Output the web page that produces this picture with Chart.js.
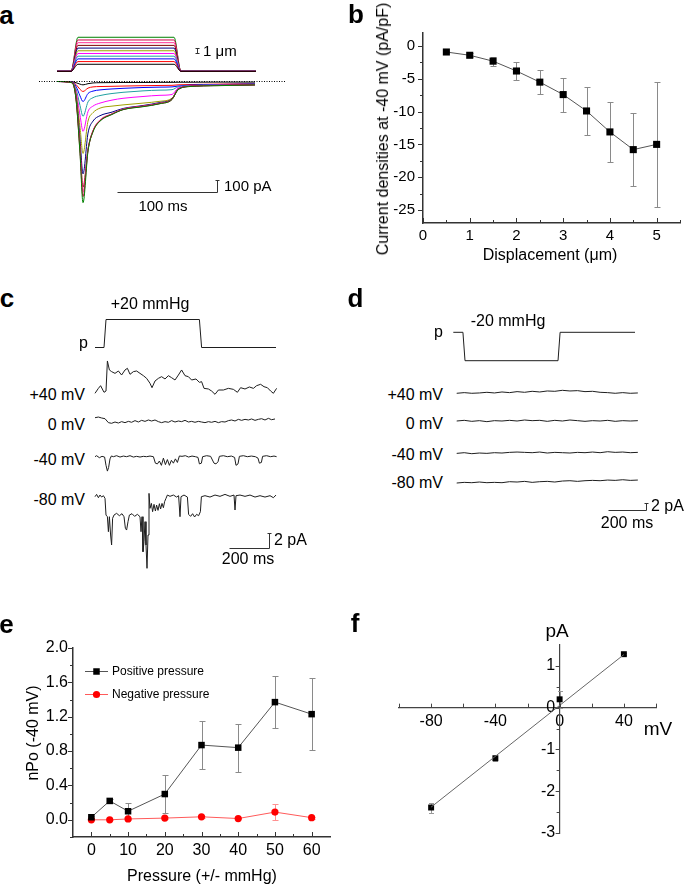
<!DOCTYPE html>
<html>
<head>
<meta charset="utf-8">
<script src="https://cdn.jsdelivr.net/npm/chart.js@4.4.3/dist/chart.umd.min.js"></script>
<style>
  body { margin: 0; background: #fff; }
  #fig { position: relative; width: 685px; height: 884px; overflow: hidden; background: #fff;
         font-family: 'Liberation Sans', Arial, Helvetica, sans-serif; color: #000; }
  #fig canvas { position: absolute; }
  .t { position: absolute; white-space: nowrap; line-height: 1; }
</style>
</head>
<body>
<div id="fig"></div>
<script>
// ---------- datos ----------

// panel a: estímulo (µm) y corrientes (pA) en el tiempo (ms)
const aStimTime = [0, 14, 21, 117, 124, 199];
const aLevels = [1.3, 1.8, 2.3, 2.8, 3.3, 3.8, 4.3, 4.8, 5.3, 5.8, 6.3];
const aTime = [0, 15, 19, 23, 26, 31, 36, 43, 55, 66, 86, 103, 115, 121, 133, 160, 198];
const aCurrents = [
  [0, -2, -10, -22, -28, -18, -12, -10, -9, -8, -8, -7, -7, -6, -6, -5, -5],
  [0, -3, -25, -65, -83, -55, -45, -42, -40, -38, -35, -33, -32, -28, -25, -22, -18],
  [0, -4, -40, -120, -167, -100, -80, -70, -62, -57, -50, -47, -45, -38, -30, -25, -20],
  [0, -5, -60, -200, -290, -170, -135, -117, -100, -90, -78, -72, -68, -45, -35, -28, -23],
  [0, -6, -80, -280, -415, -250, -205, -180, -155, -140, -125, -115, -108, -55, -38, -30, -25],
  [0, -8, -100, -380, -600, -330, -260, -222, -205, -195, -180, -165, -140, -65, -40, -33, -27],
  [0, -8, -120, -480, -770, -430, -330, -285, -255, -225, -200, -175, -145, -65, -40, -33, -27],
  [0, -10, -130, -540, -880, -560, -410, -325, -270, -232, -205, -182, -145, -66, -40, -33, -27],
  [0, -10, -140, -560, -920, -570, -410, -320, -270, -230, -205, -180, -148, -68, -40, -33, -27],
  [0, -10, -145, -590, -960, -575, -415, -328, -272, -234, -208, -184, -150, -69, -41, -34, -28],
  [0, -10, -150, -600, -1010, -580, -420, -330, -275, -235, -210, -185, -150, -70, -42, -35, -28]
];
const aColors = ['#000000', '#ff0000', '#0000ff', '#1fa0a0', '#ff00ff', '#a0a000',
                 '#000080', '#800000', '#ff3399', '#d0004a', '#008000'];
const aBaseTime = [-18, 229];
const aBaseVal = [0, 0];

// panel b
const bDisp = [0.5, 1, 1.5, 2, 2.5, 3, 3.5, 4, 4.5, 5];
const bCurrent = [-0.9, -1.4, -2.3, -3.8, -5.5, -7.4, -9.9, -13.1, -15.8, -15.0];
const bErr = [0.2, 0.3, 0.7, 1.3, 1.8, 2.6, 3.7, 4.6, 5.6, 9.5];
const bXTicks = [0, 1, 2, 3, 4, 5];
const bXMinor = [0.5, 1.5, 2.5, 3.5, 4.5, 5.5];
const bYTicks = [0, -5, -10, -15, -20, -25];
const bYMinor = [-2.5, -7.5, -12.5, -17.5, -22.5];

// panel c: presión (mmHg) y canales (pA) en ms
const cPTime = [0, 45, 55, 522, 533, 905];
const cPVal = [0, 0, 20, 20, 0, 0];
const cT40 = [0,17,28,45,55,62,72,83,100,117,133,150,162,175,192,208,225,242,258,275,285,300,317,333,350,367,383,400,417,433,450,467,483,505,522,533,545,567,583,600,617,642,667,692,712,728,750,772,792,808,828,845,862,878,892,908];
const cI40 = [-0.46,0.23,0.60,-0.32,-0.14,4.03,2.78,2.55,2.31,2.64,2.08,2.78,3.01,2.18,2.55,2.64,2.31,1.99,1.62,0.93,0.32,1.25,1.62,1.85,1.53,1.99,1.71,1.39,2.08,2.78,1.99,1.85,1.39,1.53,1.06,1.16,0.23,0.14,-0.14,-0.60,0,0,0.23,0.09,-0.32,0.32,0.14,0.42,0.23,0.60,0.79,0.46,0.32,-0.14,-0.46,0.23];
const cT0 = [0,17,33,50,67,83,100,117,133,150,167,183,200,217,233,250,267,283,300,317,333,350,367,383,400,417,433,450,467,483,500,517,533,550,567,583,600,617,633,650,667,683,700,717,733,750,767,783,800,817,833,850,867,883,900];
const cI0 = [0.46,0.55,0.42,0.32,-0.23,-0.32,-0.14,-0.28,-0.09,-0.23,-0.05,-0.18,0.05,-0.14,0.09,-0.05,0.14,0,0.14,-0.09,-0.23,-0.09,-0.18,0.05,-0.14,0,-0.09,0.09,-0.14,-0.05,-0.18,-0.05,-0.14,-0.23,-0.09,-0.18,-0.05,-0.23,-0.09,-0.14,0.05,0.14,0,0.23,0.09,0.23,0.14,0.28,0.09,0.23,0.32,0.14,0.37,0.18,0.28];
const cTn40 = [0,8,22,35,48,55,62,68,75,82,92,108,125,142,158,175,192,208,225,242,258,275,292,302,312,322,332,342,352,362,372,382,392,402,412,422,435,452,468,485,502,515,522,532,538,558,578,595,605,615,622,642,662,682,698,705,715,722,742,762,782,802,815,822,832,838,858,878,895,908];
const cIn40 = [0,0.14,-0.14,0.05,-0.05,-1.2,-2.0,-1.5,-0.3,0.1,0,0.14,-0.05,0.09,0,0.14,-0.05,0.05,-0.05,0.05,0,0.09,0,-0.9,-1.0,-0.6,-1.2,-0.2,-1.1,-0.4,-1.2,-0.5,-0.9,-0.3,-0.8,0.1,0.05,0.14,-0.05,0.09,0,-0.1,-1.0,-0.9,0,0.14,0.05,-0.9,-1.0,-0.7,0.05,0.14,0,0.09,-0.1,-1.2,-1.0,0.05,0.14,0,0.09,0,-0.2,-0.9,-0.8,0.05,0.14,0,0.09,0];
const cTn80 = [0,8,17,25,33,42,50,55,62,67,72,78,83,88,95,108,122,135,145,152,158,165,172,185,198,212,225,230,235,240,245,250,255,260,265,270,275,282,288,295,302,308,315,322,328,335,342,348,355,362,375,392,408,418,425,430,445,462,468,478,488,498,508,518,527,532,550,575,600,625,650,675,695,700,705,725,750,775,800,825,850,875,892,905];
const cIn80 = [0,0.32,-0.14,0.23,-0.05,0.14,-0.23,-2.55,-2.78,-4.86,-2.78,-5.32,-6.71,-3.0,-2.55,-2.31,-2.64,-2.36,-2.78,-4.4,-4.63,-3.47,-2.55,-2.36,-2.73,-2.45,-2.78,-4.86,-2.78,-7.64,-6.25,-3.47,-6.71,-9.95,-5.32,0.46,-1.62,-0.93,-2.08,-1.06,-1.99,-1.16,-1.90,-0.97,-1.71,-0.93,-1.53,-0.69,-0.23,0.23,0.05,0.23,-0.05,0.14,-2.78,0,0.23,-0.05,-2.45,-2.73,-2.36,-2.82,-2.45,-2.64,-2.08,0,0.14,-0.05,0.23,0.05,0.32,0.05,0.23,-1.85,0.14,0.23,0.05,0.23,-0.05,0.14,-0.05,0.14,-0.14,0.23];

// panel d
const dPTime = [-18, 33, 44, 537, 548, 945];
const dPVal = [0, 0, -20, -20, 0, 0];
const dTime = [0,40,80,120,160,200,240,280,320,360,400,440,480,520,560,600,640,680,720,760,800,840,880,920,960];
const dI40 = [-0.3,-0.1,-0.3,-0.2,0,-0.2,0.1,-0.1,0.2,0,0.3,0.1,0.4,0.3,0.6,0.4,0.5,0.2,0.3,0,-0.1,-0.3,-0.1,-0.3,-0.2];
const dI0 = [0,0.2,-0.1,0.1,-0.2,0.1,0,0.2,0,0.3,0.1,0.2,-0.1,0.2,0,0.3,0.1,-0.1,0.1,0,0.2,-0.1,0.1,0,0.1];
const dIn40 = [-0.2,0,-0.3,-0.1,-0.2,0,-0.1,0.1,0.2,0.1,0,0.2,-0.1,0.1,0,-0.1,0.1,0,0.2,0,0.3,0.1,0.2,0,0.1];
const dIn80 = [-0.4,-0.2,-0.3,-0.1,-0.3,-0.2,-0.3,0,-0.1,0.1,-0.2,0,0.1,-0.1,0.2,0.3,0.1,0.3,0.4,0.3,0.5,0.4,0.6,0.4,0.5];

// panel e
const ePressure = [0, 5, 10, 20, 30, 40, 50, 60];
const ePos = [0.03, 0.22, 0.10, 0.30, 0.87, 0.84, 1.37, 1.23];
const ePosErr = [0.01, 0.02, 0.09, 0.22, 0.28, 0.28, 0.30, 0.42];
const eNeg = [0.0, 0.0, 0.01, 0.02, 0.035, 0.015, 0.09, 0.025];
const eNegErr = [0.005, 0.005, 0.01, 0.01, 0.01, 0.01, 0.09, 0.01];
const eXTicks = [0, 10, 20, 30, 40, 50, 60];
const eXMinor = [5, 15, 25, 35, 45, 55];
const eYTicks = [0, 0.4, 0.8, 1.2, 1.6, 2.0];
const eYMinor = [-0.2, 0.2, 0.6, 1.0, 1.4, 1.8];

// panel f
const fVolt = [-80, -40, 0, 40];
const fCurr = [-2.39, -1.21, 0.20, 1.28];
const fErr = [0.12, 0.06, 0.2, 0.03];
const fFitVolt = [-80, 40];
const fFitCurr = [-2.38, 1.27];
const fXTicks = [-80, -40, 0, 40];
const fXMinor = [-100, -60, -20, 20, 60];
const fYTicks = [-3, -2, -1, 0, 1];
const fYMinor = [-2.5, -1.5, -0.5, 0.5];

// ---------- maquetación ----------
const FONT = "'Liberation Sans', Arial, Helvetica, sans-serif";
Chart.defaults.font.family = FONT;
Chart.defaults.color = '#000';

const LAYOUT = {
  a: { box: { left: 30, top: 25, width: 260, height: 190 }, x0: 57, msPerPx: 1,
       y: { ys: [71.3, 5.4], yc: [81.5, 0.12] } },
  c: { box: { left: 90, top: 300, width: 195, height: 275 }, x0: 95, msPerPx: 5,
       y: { yp: [347.5, 1.4], y40: [390, 7.2], y0: [421, 7.2], yn40: [456.7, 7.2], yn80: [496.7, 7.2] } },
  d: { box: { left: 445, top: 318, width: 210, height: 200 }, x0: 456.7, msPerPx: 5.3,
       y: { yp: [332.3, 1.42], y40: [392.3, 3.3], y0: [421, 3.3], yn40: [452.7, 3.3], yn80: [481.7, 3.3] } },
  b: { left: 340, top: 0, width: 345, height: 270 },
  e: { left: 0, top: 600, width: 340, height: 284 },
  f: { left: 340, top: 600, width: 345, height: 284 }
};

const TEXTS = [
  ['a', 6.5, 15, 26, { bold: true }],
  ['b', 356, 14, 26, { bold: true }],
  ['c', 7, 298, 26, { bold: true }],
  ['d', 355.5, 298, 26, { bold: true }],
  ['e', 6.5, 624, 26, { bold: true }],
  ['f', 355, 623, 26, { bold: true }],
  ['1 μm', 203, 50, 15, { align: 'left' }],
  ['100 pA', 224, 185, 15, { align: 'left' }],
  ['100 ms', 163, 205, 15, {}],
  ['Current densities at -40 mV (pA/pF)', 383, 129, 16, { rotate: -90 }],
  ['Displacement (μm)', 550, 255, 16, {}],
  ['+20 mmHg', 150, 304, 16, {}],
  ['p', 88, 343, 16, { align: 'right' }],
  ['+40 mV', 85, 395, 16, { align: 'right' }],
  ['0 mV', 85, 425, 16, { align: 'right' }],
  ['-40 mV', 85, 460, 16, { align: 'right' }],
  ['-80 mV', 85, 500, 16, { align: 'right' }],
  ['2 pA', 274, 540, 16, { align: 'left' }],
  ['200 ms', 248, 559, 16, {}],
  ['-20 mmHg', 508, 321, 16, {}],
  ['p', 443, 332, 16, { align: 'right' }],
  ['+40 mV', 443, 395, 16, { align: 'right' }],
  ['0 mV', 443, 424, 16, { align: 'right' }],
  ['-40 mV', 443, 455, 16, { align: 'right' }],
  ['-80 mV', 443, 483, 16, { align: 'right' }],
  ['2 pA', 651, 506, 16, { align: 'left' }],
  ['200 ms', 627, 523, 16, {}],
  ['nPo (-40 mV)', 33, 733, 16, { rotate: -90 }],
  ['Pressure (+/- mmHg)', 202, 876, 16, {}],
  ['pA', 557, 630, 19, {}],
  ['mV', 658, 728, 19, {}]
];

const fig = document.getElementById('fig');

function addText(str, x, y, size, opts) {
  const el = document.createElement('div');
  el.className = 't';
  el.textContent = str;
  el.style.fontSize = size + 'px';
  if (opts.bold) el.style.fontWeight = 'bold';
  el.style.left = x + 'px';
  el.style.top = y + 'px';
  const ax = opts.align === 'right' ? '-100%' : opts.align === 'left' ? '0' : '-50%';
  el.style.transform = `translate(${ax}, -50%)` + (opts.rotate ? ` rotate(${opts.rotate}deg)` : '');
  fig.appendChild(el);
}

function makeCanvas(box) {
  const c = document.createElement('canvas');
  c.width = box.width;
  c.height = box.height;
  c.style.left = box.left + 'px';
  c.style.top = box.top + 'px';
  c.style.width = box.width + 'px';
  c.style.height = box.height + 'px';
  fig.appendChild(c);
  return c;
}

const pts = (xs, ys) => xs.map((x, i) => ({ x, y: ys[i] }));

// rango de un eje oculto a partir de la posición del cero en la página
function xRange(box, x0, msPerPx) {
  const min = (box.left - x0) * msPerPx;
  return [min, min + box.width * msPerPx];
}
function yRange(box, zeroY, pxPerUnit) {
  const max = (zeroY - box.top) / pxPerUnit;
  return [max - box.height / pxPerUnit, max];
}

// ---------- plugins ----------
const scaleBarPlugin = {
  id: 'scaleBars',
  afterDraw(chart, args, opts) {
    const ctx = chart.ctx;
    const xs = chart.scales.x;
    ctx.save();
    ctx.strokeStyle = '#333';
    ctx.lineWidth = 1;
    (opts.bars || []).forEach(b => {
      const ys = chart.scales[b.y];
      const x1 = Math.round(xs.getPixelForValue(b.at[0])) + 0.5;
      const y1 = Math.round(ys.getPixelForValue(b.at[1])) + 0.5;
      ctx.beginPath();
      if (b.ms) {
        ctx.moveTo(Math.round(xs.getPixelForValue(b.at[0] - b.ms)) + 0.5, y1);
        ctx.lineTo(x1, y1);
      }
      if (b.amp) {
        const y0 = Math.round(ys.getPixelForValue(b.at[1] + b.amp)) + 0.5;
        ctx.moveTo(x1, y1);
        ctx.lineTo(x1, y0);
        if (b.cap) {
          ctx.moveTo(x1 - b.cap, y0); ctx.lineTo(x1 + b.cap, y0);
          if (!b.ms) { ctx.moveTo(x1 - b.cap, y1); ctx.lineTo(x1 + b.cap, y1); }
        }
      }
      ctx.stroke();
    });
    ctx.restore();
  }
};

const errorBarPlugin = {
  id: 'errorBars',
  beforeDatasetsDraw(chart) {
    const ctx = chart.ctx;
    chart.data.datasets.forEach((ds, i) => {
      if (!ds.errors) return;
      const meta = chart.getDatasetMeta(i);
      const ys = chart.scales[meta.yAxisID];
      const cap = ds.errorCap || 3;
      ctx.save();
      ctx.strokeStyle = ds.errorColor || '#888';
      ctx.lineWidth = 1;
      meta.data.forEach((el, j) => {
        const v = ds.data[j].y, e = ds.errors[j];
        const x = Math.round(el.x) + 0.5;
        const y1 = Math.round(ys.getPixelForValue(v + e)) + 0.5;
        const y2 = Math.round(ys.getPixelForValue(v - e)) + 0.5;
        ctx.beginPath();
        ctx.moveTo(x, y1); ctx.lineTo(x, y2);
        ctx.moveTo(x - cap, y1); ctx.lineTo(x + cap, y1);
        ctx.moveTo(x - cap, y2); ctx.lineTo(x + cap, y2);
        ctx.stroke();
      });
      ctx.restore();
    });
  }
};

// marcas de los ejes (mayores y menores), hacia dentro o hacia fuera
const axisTickPlugin = {
  id: 'axisTicks',
  afterDraw(chart, args, opts) {
    const ctx = chart.ctx;
    ctx.save();
    ctx.strokeStyle = opts.color || '#333';
    ctx.lineWidth = 1;
    (opts.marks || []).forEach(m => {
      const s = chart.scales[m.scale];
      const pos = s.options.position;
      let base;
      if (typeof pos === 'object') {
        const k = Object.keys(pos)[0];
        base = chart.scales[k].getPixelForValue(pos[k]);
      } else {
        base = s.isHorizontal() ? s.top : s.right;
      }
      m.values.forEach(v => {
        const p = Math.round(s.getPixelForValue(v)) + 0.5;
        ctx.beginPath();
        if (s.isHorizontal()) { ctx.moveTo(p, base); ctx.lineTo(p, base + m.dir * m.len); }
        else { ctx.moveTo(base, p); ctx.lineTo(base + m.dir * m.len, p); }
        ctx.stroke();
      });
    });
    ctx.restore();
  }
};

const insideLegendPlugin = {
  id: 'insideLegend',
  afterDraw(chart, args, opts) {
    if (!opts.x) return;
    const ctx = chart.ctx;
    ctx.save();
    let row = 0;
    chart.data.datasets.forEach(ds => {
      if (!ds.label) return;
      const y = Math.round(opts.y + row * opts.gap) + 0.5;
      const cx = opts.x + opts.len / 2;
      ctx.strokeStyle = ds.borderColor;
      ctx.lineWidth = 1;
      ctx.beginPath(); ctx.moveTo(opts.x, y); ctx.lineTo(opts.x + opts.len, y); ctx.stroke();
      ctx.fillStyle = ds.pointBackgroundColor;
      ctx.beginPath();
      if (ds.pointStyle === 'rect') {
        const h = ds.pointRadius * Math.SQRT1_2;
        ctx.rect(cx - h, y - h, 2 * h, 2 * h);
      } else {
        ctx.arc(cx, y, ds.pointRadius, 0, Math.PI * 2);
      }
      ctx.fill();
      ctx.fillStyle = '#000';
      ctx.font = opts.font;
      ctx.textBaseline = 'middle';
      ctx.fillText(ds.label, opts.x + opts.len + 4, y);
      row++;
    });
    ctx.restore();
  }
};

// ---------- gráficos de registros ----------
function traceChart(panel, datasets, bars) {
  const L = LAYOUT[panel];
  const xr = xRange(L.box, L.x0, L.msPerPx);
  const scales = { x: { type: 'linear', display: false, min: xr[0], max: xr[1] } };
  for (const [id, [zero, ppu]] of Object.entries(L.y)) {
    const r = yRange(L.box, zero, ppu);
    scales[id] = { type: 'linear', display: false, min: r[0], max: r[1] };
  }
  return new Chart(makeCanvas(L.box), {
    type: 'line',
    data: { datasets },
    options: {
      responsive: false, animation: false, devicePixelRatio: 1,
      layout: { padding: 0 },
      elements: { point: { radius: 0 }, line: { borderWidth: 1, tension: 0 } },
      plugins: { legend: { display: false }, tooltip: { enabled: false }, scaleBars: { bars } },
      scales
    },
    plugins: [scaleBarPlugin]
  });
}

const trace = (xs, ys, yAxisID, color, extra) =>
  Object.assign({ data: pts(xs, ys), yAxisID, borderColor: color, borderWidth: 1, pointRadius: 0 }, extra || {});

// panel a
const aSets = [trace(aBaseTime, aBaseVal, 'yc', '#000', { borderDash: [1, 1.5] })];
aLevels.forEach((lev, i) => {
  aSets.push(trace(aStimTime, [0, 0, lev, lev, 0, 0], 'ys', aColors[i], { cubicInterpolationMode: 'monotone' }));
});
aCurrents.slice().reverse().forEach((vals, k) => {
  const i = aCurrents.length - 1 - k;
  aSets.push(trace(aTime, vals, 'yc', aColors[i], { cubicInterpolationMode: 'monotone' }));
});
traceChart('a', aSets, [
  { y: 'ys', at: [139.5, 3.3], amp: 1, cap: 2 },
  { y: 'yc', at: [160, -921], ms: 100, amp: 100, cap: 2 }
]);

// panel c
const TRACE = '#1e1e1e';
traceChart('c', [
  trace(cPTime, cPVal, 'yp', TRACE),
  trace(cT40, cI40, 'y40', TRACE),
  trace(cT0, cI0, 'y0', TRACE),
  trace(cTn40, cIn40, 'yn40', TRACE),
  trace(cTn80, cIn80, 'yn80', TRACE)
], [{ y: 'yn80', at: [870, -7.06], ms: 200, amp: 2, cap: 2 }]);

// panel d
traceChart('d', [
  trace(dPTime, dPVal, 'yp', TRACE),
  trace(dTime, dI40, 'y40', TRACE),
  trace(dTime, dI0, 'y0', TRACE),
  trace(dTime, dIn40, 'yn40', TRACE),
  trace(dTime, dIn80, 'yn80', TRACE)
], [{ y: 'yn80', at: [1003, -8.58], ms: 200, amp: 2, cap: 2 }]);

// ---------- gráficos de datos ----------
const setTicks = values => scale => { scale.ticks = values.map(value => ({ value })); };
const axisBorder = { display: true, color: '#333', width: 1.5 };
const noGrid = { display: false, drawTicks: false };

// panel b
new Chart(makeCanvas(LAYOUT.b), {
  type: 'line',
  data: {
    datasets: [{
      data: pts(bDisp, bCurrent), errors: bErr, errorColor: '#8a8a8a', errorCap: 3,
      borderColor: '#555', borderWidth: 1, pointStyle: 'rect', pointRadius: 5,
      pointBackgroundColor: '#000', pointBorderColor: '#000', pointBorderWidth: 0
    }]
  },
  options: {
    responsive: false, animation: false, devicePixelRatio: 1,
    layout: { padding: { top: 33, right: 5, left: 0, bottom: 0 } },
    plugins: {
      legend: { display: false }, tooltip: { enabled: false },
      axisTicks: { marks: [
        { scale: 'x', values: bXTicks, len: 5, dir: -1 },
        { scale: 'x', values: bXMinor, len: 3, dir: -1 },
        { scale: 'y', values: bYTicks, len: 5, dir: -1 },
        { scale: 'y', values: bYMinor, len: 3, dir: -1 }
      ] }
    },
    scales: {
      x: { type: 'linear', min: 0, max: 5.5, afterBuildTicks: setTicks(bXTicks), afterFit: s => { s.height = 47; },
           grid: noGrid, border: axisBorder,
           ticks: { font: { size: 15 }, padding: 4, maxRotation: 0, autoSkip: false, callback: v => String(v) } },
      y: { type: 'linear', min: -27, max: 2, afterBuildTicks: setTicks(bYTicks), afterFit: s => { s.width = 83; },
           grid: noGrid, border: axisBorder,
           ticks: { font: { size: 15 }, padding: 8, autoSkip: false, callback: v => String(v) } }
    }
  },
  plugins: [errorBarPlugin, axisTickPlugin]
});

// panel e
new Chart(makeCanvas(LAYOUT.e), {
  type: 'line',
  data: {
    datasets: [
      { label: 'Positive pressure', data: pts(ePressure, ePos), errors: ePosErr, errorColor: '#8a8a8a', errorCap: 3,
        borderColor: '#555', borderWidth: 1, pointStyle: 'rect', pointRadius: 4.6,
        pointBackgroundColor: '#000', pointBorderColor: '#000', pointBorderWidth: 0 },
      { label: 'Negative pressure', data: pts(ePressure, eNeg), errors: eNegErr, errorColor: '#ff9090', errorCap: 3,
        borderColor: '#ff5a5a', borderWidth: 1, pointStyle: 'circle', pointRadius: 3.6,
        pointBackgroundColor: '#ff0000', pointBorderColor: '#ff0000', pointBorderWidth: 0 }
    ]
  },
  options: {
    responsive: false, animation: false, devicePixelRatio: 1,
    layout: { padding: { top: 48, right: 10, left: 0, bottom: 0 } },
    plugins: {
      legend: { display: false }, tooltip: { enabled: false },
      insideLegend: { x: 85, y: 70.5, gap: 23.5, len: 23, font: '12px ' + FONT },
      axisTicks: { marks: [
        { scale: 'x', values: eXTicks, len: 5, dir: -1 },
        { scale: 'x', values: eXMinor, len: 3, dir: -1 },
        { scale: 'y', values: eYTicks, len: 5, dir: -1 },
        { scale: 'y', values: eYMinor, len: 3, dir: -1 }
      ] }
    },
    scales: {
      x: { type: 'linear', min: -5, max: 65, afterBuildTicks: setTicks(eXTicks), afterFit: s => { s.height = 47; },
           grid: noGrid, border: axisBorder,
           ticks: { font: { size: 16 }, padding: 4, maxRotation: 0, autoSkip: false, callback: v => String(v) } },
      y: { type: 'linear', min: -0.2, max: 2.0, afterBuildTicks: setTicks(eYTicks), afterFit: s => { s.width = 73; },
           grid: noGrid, border: axisBorder,
           ticks: { font: { size: 16 }, padding: 5, autoSkip: false, callback: v => v.toFixed(1) } }
    }
  },
  plugins: [errorBarPlugin, axisTickPlugin, insideLegendPlugin]
});

// panel f
new Chart(makeCanvas(LAYOUT.f), {
  type: 'line',
  data: {
    datasets: [
      { data: pts(fFitVolt, fFitCurr), borderColor: '#666', borderWidth: 1, pointRadius: 0 },
      { data: pts(fVolt, fCurr), errors: fErr, errorColor: '#999', errorCap: 2.5, showLine: false,
        pointStyle: 'rect', pointRadius: 4.2, pointBackgroundColor: '#000', pointBorderColor: '#000', pointBorderWidth: 0 }
    ]
  },
  options: {
    responsive: false, animation: false, devicePixelRatio: 1,
    layout: { padding: { top: 45, right: 29, left: 59, bottom: 51 } },
    plugins: {
      legend: { display: false }, tooltip: { enabled: false },
      axisTicks: { color: '#444', marks: [
        { scale: 'x', values: fXTicks, len: 4, dir: -1 },
        { scale: 'x', values: fXMinor, len: 4, dir: -1 },
        { scale: 'y', values: fYTicks, len: 4, dir: -1 },
        { scale: 'y', values: fYMinor, len: 3, dir: -1 }
      ] }
    },
    scales: {
      x: { type: 'linear', min: -100, max: 60, position: { y: 0 }, afterBuildTicks: setTicks(fXTicks),
           afterFit: s => { s.height = 0; }, grid: noGrid,
           border: { display: true, color: '#444', width: 1.2 },
           ticks: { font: { size: 16 }, padding: 4, maxRotation: 0, autoSkip: false, callback: v => String(v) } },
      y: { type: 'linear', min: -3, max: 1.5, position: { x: 0 }, afterBuildTicks: setTicks(fYTicks),
           afterFit: s => { s.width = 0; }, grid: noGrid,
           border: { display: true, color: '#444', width: 1.2 },
           ticks: { font: { size: 16 }, padding: 6, autoSkip: false, callback: v => v + ' ' } }
    }
  },
  plugins: [errorBarPlugin, axisTickPlugin]
});

TEXTS.forEach(([s, x, y, size, opts]) => addText(s, x, y, size, opts));
</script>
</body>
</html>
